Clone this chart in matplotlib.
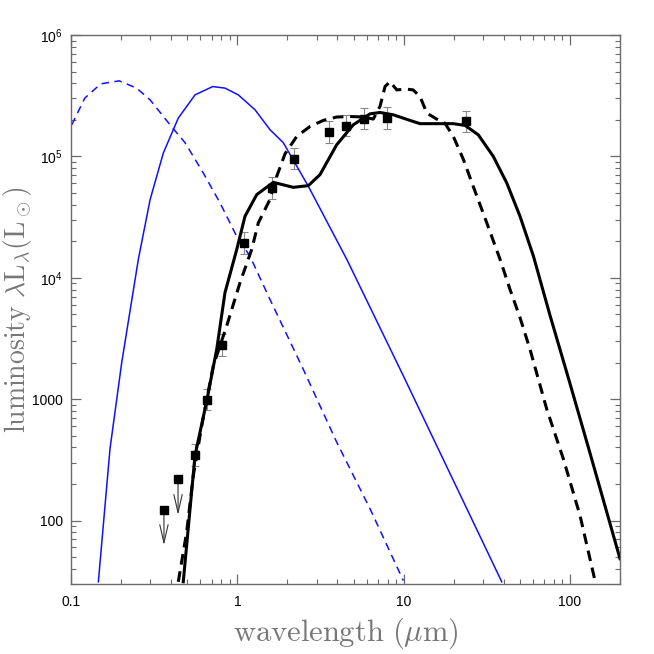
import matplotlib
matplotlib.use("Agg")
import matplotlib.pyplot as plt
import numpy as np
from matplotlib.ticker import FixedLocator, FixedFormatter, LogLocator, NullFormatter

plt.rcParams["font.family"] = ["Liberation Sans", "DejaVu Sans"]
plt.rcParams["mathtext.fontset"] = "cm"

# ── model curves (wavelength in micron, lambda L_lambda in L_sun) ──
blue_dash_x = [0.101, 0.121, 0.151, 0.195, 0.248, 0.299, 0.394, 0.485, 0.624,
               0.787, 0.99, 1.19, 1.57, 2.49, 3.96, 6.28, 9.96]
blue_dash_y = [182000, 302000, 396000, 419000, 365000, 292000, 182000, 129600,
               73000, 41400, 22000, 15100, 6650, 1766, 442, 125, 32]

blue_solid_x = [0.146, 0.1715, 0.2018, 0.254, 0.299, 0.359, 0.4416, 0.5566,
                0.711, 0.843, 1.014, 1.278, 1.573, 1.89, 2.673, 4.55, 9.96,
                25.1, 38.9]
blue_solid_y = [31.3, 389, 2005, 14200, 44100, 106700, 206800, 321000, 376000,
                365000, 321000, 242000, 165700, 129600, 56700, 14200, 1556,
                110, 31.3]

black_solid_x = [0.473, 0.5566, 0.655, 0.752, 0.843, 0.992, 1.112, 1.308,
                 1.646, 2.17, 2.673, 3.14, 3.96, 4.98, 6.28, 7.21, 8.67, 10.9,
                 12.55, 15.8, 19.9, 23.4, 28.1, 34.6, 41.7, 50.1, 60.3, 75.9,
                 100, 132, 200]
black_solid_y = [31.3, 343, 970, 2580, 7550, 17100, 32100, 48400, 61100, 55600,
                 57400, 70700, 124700, 182000, 224000, 230000, 220000, 198000,
                 186000, 186000, 186000, 180000, 150700, 100000, 60400, 32100,
                 15100, 4900, 1350, 360, 48.5]

black_dash_x = [0.4416, 0.496, 0.5437, 0.611, 0.717, 0.863, 1.038, 1.22, 1.338,
                1.57, 1.726, 1.936, 2.276, 2.736, 3.29, 3.96, 4.76, 5.72, 6.57,
                7.21, 7.73, 8.28, 9.09, 10.4, 11.4, 12.55, 13.8, 15.8, 17.7,
                19.9, 22.9, 26.2, 31.6, 38, 43.6, 50.1, 57.5, 72.5, 91.3, 115,
                142]
black_dash_y = [31.3, 80.5, 235, 604, 1880, 4010, 9120, 17100, 28400, 44100,
                68500, 105000, 146000, 176400, 198000, 211000, 213000, 211000,
                203000, 258000, 376000, 413000, 353000, 358000, 353000, 311000,
                227000, 203000, 188000, 146000, 94000, 56700, 28400, 14200,
                8030, 4700, 2580, 830, 322, 110, 31.3]

# ── photometry ──
phot_x = [0.362, 0.44, 0.555, 0.658, 0.809, 1.097, 1.61, 2.2, 3.57, 4.5, 5.8,
          7.98, 23.7]
phot_y = [123, 218, 347, 989, 2785, 19400, 55000, 95800, 159000, 179000,
          204000, 207000, 194000]
phot_err_dex = [0, 0, 0.088, 0.088, 0.088, 0.088, 0.088, 0.088, 0.088, 0.088,
                0.088, 0.088, 0.088]
phot_upper_limit = [True, True, False, False, False, False, False, False,
                    False, False, False, False, False]

xticks = [0.1, 1, 10, 100]
xticklabels = ["0.1", "1", "10", "100"]
yticks = [100, 1000, 1e4, 1e5, 1e6]
yticklabels = ["100", "1000", r"$\mathregular{10^4}$", r"$\mathregular{10^5}$",
               r"$\mathregular{10^6}$"]

fig = plt.figure(figsize=(6.54, 6.54), dpi=100)
ax = fig.add_axes([0.1086, 0.107, 0.8394, 0.8395])
ax.set_xscale("log")
ax.set_yscale("log")
ax.set_xlim(0.1, 200)
ax.set_ylim(30, 1e6)

ax.plot(blue_dash_x, blue_dash_y, color="#1010ff", lw=1.1, dashes=(5, 3.5))
ax.plot(blue_solid_x, blue_solid_y, color="#1010ff", lw=1.1)
ax.plot(black_solid_x, black_solid_y, color="black", lw=2.2)
ax.plot(black_dash_x, black_dash_y, color="black", lw=2.2, dashes=(3.5, 2.2))

px = np.array(phot_x)
py = np.array(phot_y)
ed = np.array(phot_err_dex)
lim = np.array(phot_upper_limit)
det = ~lim
err_lo = py[det] - py[det] / 10 ** ed[det]
err_hi = py[det] * 10 ** ed[det] - py[det]
ax.errorbar(px[det], py[det], yerr=[err_lo, err_hi], fmt="none",
            ecolor="#888888", elinewidth=0.8, capsize=3, capthick=0.8,
            zorder=1)
ax.plot(px, py, "s", color="black", ms=5.5, zorder=5)
for xv, yv in zip(px[lim], py[lim]):
    ax.annotate("", xy=(xv, yv / 10 ** 0.293), xytext=(xv, yv),
                arrowprops=dict(arrowstyle="->,head_length=1.3,head_width=0.3",
                                color="#333333", lw=0.8, shrinkA=0, shrinkB=0))

# ── axes styling ──
for s in ax.spines.values():
    s.set_color("#6a6a6a")
    s.set_linewidth(1.0)
ax.xaxis.set_major_locator(FixedLocator(xticks))
ax.xaxis.set_major_formatter(FixedFormatter(xticklabels))
ax.yaxis.set_major_locator(FixedLocator(yticks))
ax.yaxis.set_major_formatter(FixedFormatter(yticklabels))
ax.xaxis.set_minor_locator(LogLocator(base=10, subs=np.arange(2, 10)))
ax.yaxis.set_minor_locator(LogLocator(base=10, subs=np.arange(2, 10)))
ax.xaxis.set_minor_formatter(NullFormatter())
ax.yaxis.set_minor_formatter(NullFormatter())
ax.tick_params(which="both", direction="in", top=True, right=True,
               color="#6a6a6a", labelsize=10, labelcolor="black")
ax.tick_params(which="major", length=7.5, width=0.9)
ax.tick_params(which="minor", length=3.8, width=0.8)
ax.tick_params(axis="x", which="major", pad=8)
ax.tick_params(axis="y", which="major", pad=6)

ax.set_xlabel(r"$\mathrm{wavelength}\ (\mu\mathrm{m})$", fontsize=22,
              color="#777777")
ax.set_ylabel(r"$\mathrm{luminosity}\ \lambda\mathrm{L}_\lambda(\mathrm{L}_\odot)$",
              fontsize=20, color="#777777")
ax.xaxis.set_label_coords(0.5, -0.058)
ax.yaxis.set_label_coords(-0.067, 0.5)

fig.savefig("out.png", dpi=100, facecolor="white")
